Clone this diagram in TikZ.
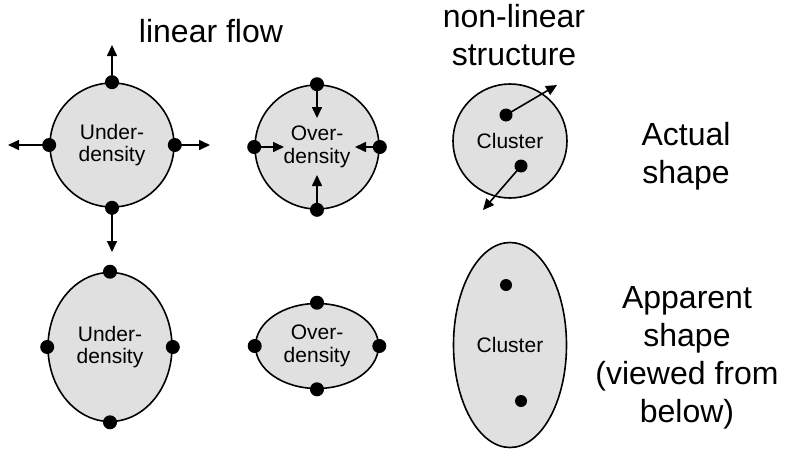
\documentclass[tikz,border=0pt]{standalone}
\usepackage{fontspec}
\setmainfont{Liberation Sans}
\usetikzlibrary{shapes.geometric,arrows.meta}
\definecolor{shapefill}{RGB}{224,224,224}
\begin{document}
\begin{tikzpicture}[x=1pt,y=-1pt,
  blob/.style={draw=black,line width=1.6pt,fill=shapefill,inner sep=0pt,align=center,font=\fontsize{21}{22.5}\selectfont},
  roundblob/.style={blob,circle,minimum size=#1},
  ovalblob/.style={blob,ellipse},
  pt/.style={circle,fill=black,inner sep=0pt,minimum size=14pt},
  flow/.style={line width=1.6pt,-{Triangle[length=11pt,width=10pt]}},
  label/.style={align=center,font=\fontsize{32}{38}\selectfont,anchor=base}
]
\useasboundingbox (0,0) rectangle (789,450);

% ---- top row: actual shapes ----
\node[roundblob=124pt] (U1) at (112,145) {Under-\\density};
\node[roundblob=124pt] (O1) at (317,147) {Over-\\density};
\node[roundblob=114pt] (C1) at (510,141) {Cluster};

% arrow end points
\coordinate (u1n) at (112,45);
\coordinate (u1s) at (112,252);
\coordinate (u1w) at (8,145);
\coordinate (u1e) at (210,145);
\coordinate (o1n) at (317,118);
\coordinate (o1s) at (317,175);
\coordinate (o1w) at (284,147);
\coordinate (o1e) at (355,147);
\coordinate (c1a) at (557,85);
\coordinate (c1b) at (483,210);

% dots (drawn as nodes)
\node[pt] (du1n) at (U1.north) {};
\node[pt] (du1s) at (U1.south) {};
\node[pt] (du1w) at (U1.west) {};
\node[pt] (du1e) at (U1.east) {};
\node[pt] (do1n) at (O1.north) {};
\node[pt] (do1s) at (O1.south) {};
\node[pt] (do1w) at (O1.west) {};
\node[pt] (do1e) at (O1.east) {};
\node[pt,minimum size=13pt] (dc1a) at (506,115) {};
\node[pt,minimum size=13pt] (dc1b) at (521,166) {};

% flow arrows
\draw[flow] (du1n.center) -- (u1n);
\draw[flow] (du1s.center) -- (u1s);
\draw[flow] (du1w.center) -- (u1w);
\draw[flow] (du1e.center) -- (u1e);
\draw[flow] (do1n.center) -- (o1n);
\draw[flow] (do1s.center) -- (o1s);
\draw[flow] (do1w.center) -- (o1w);
\draw[flow] (do1e.center) -- (o1e);
\draw[flow] (dc1a.center) -- (c1a);
\draw[flow] (dc1b.center) -- (c1b);

% ---- bottom row: apparent shapes ----
\node[ovalblob,minimum width=124pt,minimum height=149pt] (U2) at (110,347) {Under-\\density};
\node[ovalblob,minimum width=123pt,minimum height=85pt] (O2) at (317,346) {Over-\\density};
\node[ovalblob,minimum width=113pt,minimum height=205pt] (C2) at (510,345) {Cluster};

\node[pt] (du2n) at (U2.north) {};
\node[pt] (du2s) at (U2.south) {};
\node[pt] (du2w) at (U2.west) {};
\node[pt] (du2e) at (U2.east) {};
\node[pt] (do2n) at (O2.north) {};
\node[pt] (do2s) at (O2.south) {};
\node[pt] (do2w) at (O2.west) {};
\node[pt] (do2e) at (O2.east) {};
\node[pt,minimum size=12pt] (dc2a) at (506,285) {};
\node[pt,minimum size=12pt] (dc2b) at (521,401) {};

% ---- labels (base anchor = baseline of last line) ----
\node[label] (lin) at (211,42) {linear flow};
\node[label] (nonlin) at (514,65) {non-linear\\structure};
\node[label] (actual) at (686,183) {Actual\\shape};
\node[label] (apparent) at (687,422) {Apparent\\shape\\(viewed from\\below)};
\end{tikzpicture}
\end{document}
